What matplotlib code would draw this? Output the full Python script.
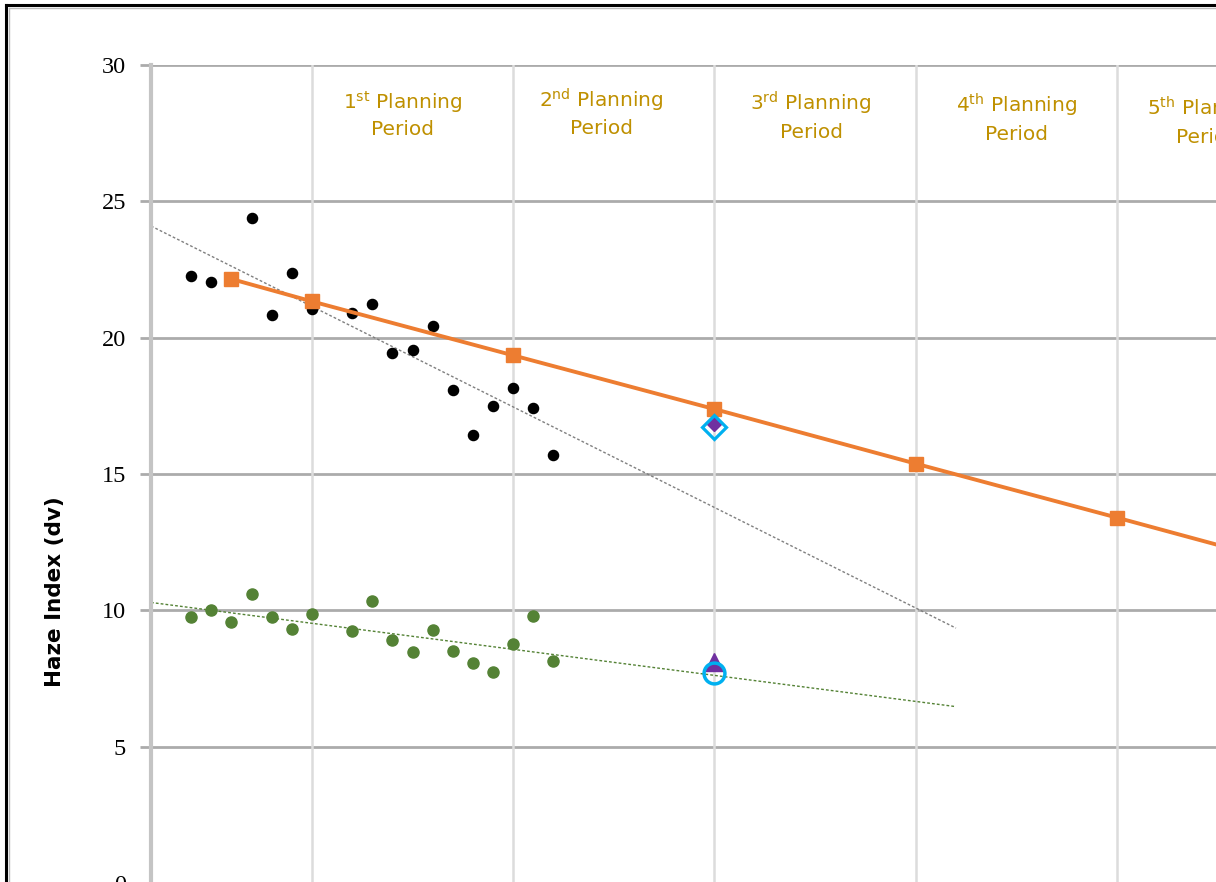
import numpy as np
import matplotlib.pyplot as plt
from matplotlib.lines import Line2D

# monitored haze index, most impaired days (black) and clearest days (green)
years = [2002, 2003, 2004, 2005, 2006, 2007, 2008, 2010, 2011, 2012, 2013,
         2014, 2015, 2016, 2017, 2018, 2019, 2020]
worst_days = [22.25, 22.03, 22.16, 24.40, 20.82, 22.38, 21.06, 20.92, 21.24,
              19.45, 19.53, 20.43, 18.08, 16.44, 17.49, 18.15, 17.43, 15.71]
best_days = [9.74, 10.01, 9.58, 10.61, 9.74, 9.31, 9.85, 9.23, 10.34, 8.90,
             8.46, 9.28, 8.51, 8.08, 7.74, 8.77, 9.79, 8.15]

# uniform rate of progress glide path
glide_years = [2004, 2008, 2018, 2028, 2038, 2048, 2058, 2064]
glide_values = [22.15, 21.33, 19.35, 17.38, 15.38, 13.4, 11.4, 10.2]

# 2028 projections
proj_year = 2028
proj_worst = 16.85
proj_worst_alt = 16.73
proj_best = 8.1
proj_best_alt = 7.7

period_labels = [r"1$^{\mathrm{st}}$ Planning" + "\nPeriod",
                 r"2$^{\mathrm{nd}}$ Planning" + "\nPeriod",
                 r"3$^{\mathrm{rd}}$ Planning" + "\nPeriod",
                 r"4$^{\mathrm{th}}$ Planning" + "\nPeriod",
                 r"5$^{\mathrm{th}}$ Planning" + "\nPeriod"]
period_x = [2012.5, 2022.4, 2032.8, 2043.0, 2052.5]
period_y = [28.2, 28.27, 28.13, 28.06, 27.95]

orange = '#ED7D31'
green = '#548235'
gold = '#BF9000'
cyan = '#00B0F0'
purple = '#7030A0'

fig = plt.figure(figsize=(12.16, 8.82), dpi=100)
ax = fig.add_axes([151 / 1216, -1 / 882, 1065 / 1216, 818 / 882])

# grid
for y in range(0, 31, 5):
    ax.axhline(y, color='#ABABAB', lw=2, zorder=0)
for x in range(2008, 2060, 10):
    ax.axvline(x, color='#DCDCDC', lw=1.8, zorder=0)

# trendlines
trend_x = np.array([2000, 2040])
k, b = np.polyfit(years, worst_days, 1)
ax.plot(trend_x, k * trend_x + b, color='#808080', lw=1, ls=(0, (2, 1.5)), zorder=1)
k, b = np.polyfit(years, best_days, 1)
ax.plot(trend_x, k * trend_x + b, color=green, lw=1, ls=(0, (2, 1.5)), zorder=1)

ax.plot(years, worst_days, 'o', color='black', ms=7.3, zorder=3)
ax.plot(years, best_days, 'o', color=green, ms=8, zorder=3)

ax.plot(glide_years, glide_values, color=orange, lw=2.8, marker='s', ms=10,
        zorder=4)

ax.plot(proj_year, proj_worst, 'D', color=purple, ms=7, zorder=5)
ax.plot(proj_year, proj_worst_alt, 'D', mfc='none', mec=cyan, mew=2.3, ms=12.5,
        zorder=6)
ax.plot(proj_year, proj_best, '^', color=purple, ms=13, zorder=5)
ax.plot(proj_year, proj_best_alt, 'o', mfc='none', mec=cyan, mew=2.5, ms=15,
        zorder=6)

for lab, x, y in zip(period_labels, period_x, period_y):
    ax.text(x, y, lab, color=gold, fontsize=14.5, ha='center', va='center',
            linespacing=1.35, family='DejaVu Sans', clip_on=False)

ax.set_xlim(2000, 2052.92)
ax.set_ylim(0, 30)
ax.set_yticks(range(0, 31, 5))
ax.set_xticks([])
for s in ['top', 'right', 'bottom']:
    ax.spines[s].set_visible(False)
ax.spines['left'].set_color('#C4C4C4')
ax.spines['left'].set_linewidth(3)
ax.tick_params(axis='y', length=8, width=2, color='#ABABAB', pad=10,
               labelsize=17.5)
for t in ax.get_yticklabels():
    t.set_family('Liberation Serif')

fig.text(55 / 1216, 1 - 592 / 882, 'Haze Index (dv)', rotation=90,
         fontsize=15.5, fontweight='bold', ha='center', va='center')

# frame of the original screenshot
fig.add_artist(Line2D([6 / 1216, 6 / 1216], [0, 1 - 5 / 882], color='black',
                      lw=2.2, transform=fig.transFigure))
fig.add_artist(Line2D([6 / 1216, 1], [1 - 5 / 882, 1 - 5 / 882], color='black',
                      lw=2.2, transform=fig.transFigure))
fig.add_artist(Line2D([8.5 / 1216, 8.5 / 1216], [0, 1 - 8 / 882],
                      color='#BBBBBB', lw=1, transform=fig.transFigure))
fig.add_artist(Line2D([8.5 / 1216, 1], [1 - 8 / 882, 1 - 8 / 882],
                      color='#BBBBBB', lw=1, transform=fig.transFigure))

plt.savefig('out.png', dpi=100)
